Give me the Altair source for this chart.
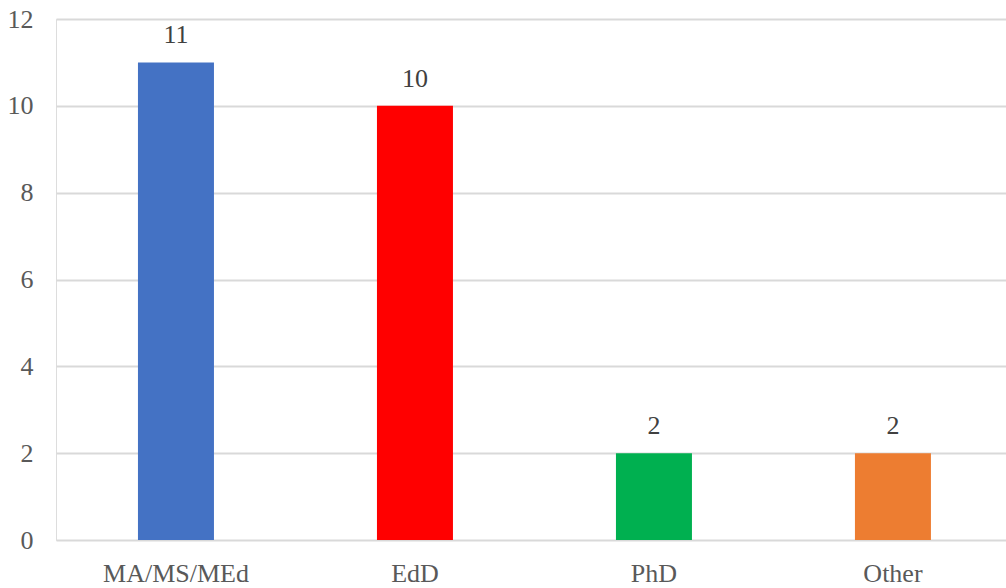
import altair as alt
import pandas as pd

degrees = ["MA/MS/MEd", "EdD", "PhD", "Other"]
counts = [11, 10, 2, 2]
bar_colors = ["#4472C4", "#FF0000", "#00B050", "#ED7D31"]

df = pd.DataFrame({"degree": degrees, "count": counts})

FONT = "Liberation Serif"

x = alt.X(
    "degree:N",
    sort=degrees,
    title=None,
    scale=alt.Scale(paddingInner=0.682, paddingOuter=0.3285, align=0.522),
    axis=alt.Axis(
        labelAngle=0, domain=False, ticks=False, labelPadding=20,
        labelFont=FONT, labelFontSize=26, labelColor="#595959",
    ),
)
y = alt.Y(
    "count:Q",
    title=None,
    scale=alt.Scale(domain=[0, 12], nice=False),
    axis=alt.Axis(
        values=[0, 2, 4, 6, 8, 10, 12], domain=False, ticks=False,
        labelPadding=23, labelFont=FONT, labelFontSize=26, labelColor="#595959",
        gridColor="#D9D9D9", gridWidth=2,
    ),
)

bars = alt.Chart(df).mark_bar().encode(
    x=x,
    y=y,
    color=alt.Color("degree:N", scale=alt.Scale(domain=degrees, range=bar_colors), legend=None),
)

labels = alt.Chart(df).mark_text(
    baseline="alphabetic", dy=-19, font=FONT, fontSize=26, color="#404040"
).encode(x=x, y=y, text="count:Q")

chart = (
    alt.layer(bars, labels)
    .properties(
        width=950,
        height=521,
        autosize=alt.AutoSizeParams(type="none"),
        padding={"left": 56, "top": 19, "right": 0, "bottom": 48},
    )
    .configure_view(stroke=None)
    .configure(background="white")
)

chart.save("out.html", embed_options={"renderer": "svg", "actions": False})
